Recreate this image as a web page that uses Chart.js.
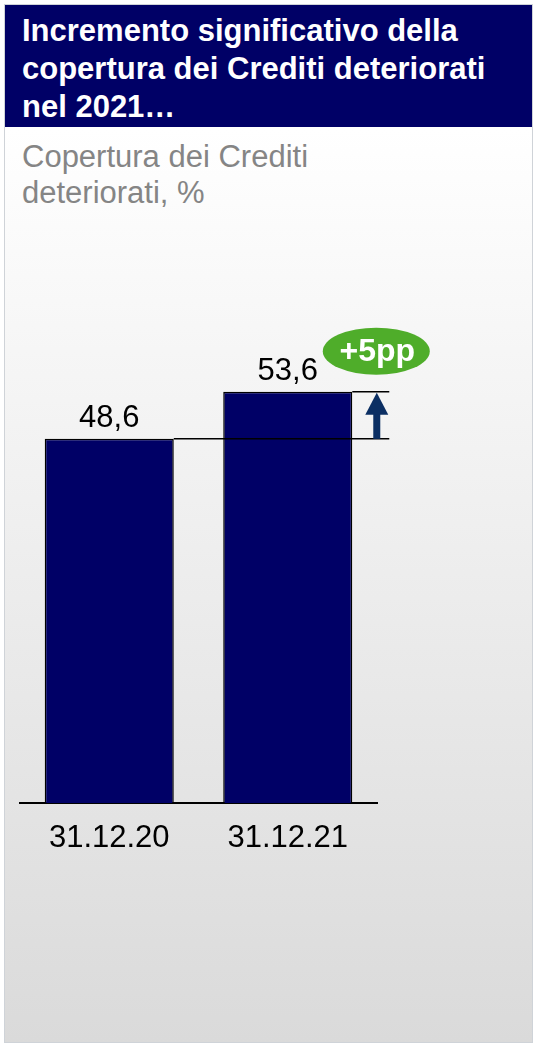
<!DOCTYPE html>
<html lang="it">
<head>
<meta charset="utf-8">
<title>Copertura dei Crediti deteriorati</title>
<script src="https://cdn.jsdelivr.net/npm/chart.js@4.4.1/dist/chart.umd.min.js"></script>
<style>
  html, body { margin: 0; padding: 0; background: #fff; }
  body { width: 539px; height: 1045px; position: relative; overflow: hidden;
         font-family: "Liberation Sans", Arial, Helvetica, sans-serif; }
  .panel { position: absolute; left: 4px; top: 4px; width: 527px; height: 1037px;
           border: 1px solid #cfd3d8;
           background: linear-gradient(to bottom, #ffffff 0px, #ffffff 123px, #dadada 1037px); }
  .header { height: 122px; background: #000066; color: #fff; font-weight: bold;
            font-size: 31px; line-height: 38px; padding: 7px 0 0 17px; box-sizing: border-box; }
  .subtitle { color: #858585; font-size: 31px; line-height: 36px; padding: 12px 0 0 17px; }
  #chart { position: absolute; left: 0; top: 0; }
</style>
</head>
<body>
<div class="panel">
  <div class="header">Incremento significativo della<br>copertura dei Crediti deteriorati<br>nel 2021…</div>
  <div class="subtitle">Copertura dei Crediti<br>deteriorati, %</div>
</div>
<canvas id="chart" width="539" height="1045"></canvas>
<script>
// dati
var categories = ['31.12.20', '31.12.21'];
var coverage = [48.6, 53.6];
var yMin = 10;
var yMax = 70;

var NAVY = '#000066';
var ARROW = '#0b2f63';
var GREEN = '#4fad2a';
var FONT = '"Liberation Sans", Arial, Helvetica, sans-serif';

function fmt(v) {
  return v.toFixed(1).replace('.', ',');
}

// etichette valori, linee di riferimento, freccia e badge della variazione
var annotations = {
  id: 'annotations',
  afterDatasetsDraw: function(chart) {
    var ctx = chart.ctx;
    var y = chart.scales.y;
    var bars = chart.getDatasetMeta(0).data;

    ctx.save();
    ctx.fillStyle = '#000';
    ctx.font = '31px ' + FONT;
    ctx.textAlign = 'center';
    ctx.textBaseline = 'alphabetic';
    bars.forEach(function(b, i) {
      ctx.fillText(fmt(coverage[i]), b.x, b.y - 12);
    });

    var first = bars[0], last = bars[bars.length - 1];
    var yLow = y.getPixelForValue(coverage[0]);
    var yHigh = y.getPixelForValue(coverage[coverage.length - 1]);
    var lastRight = last.x + last.width / 2;
    var lineEnd = lastRight + 37;
    var ax = lastRight + 24.5;

    // linee orizzontali
    ctx.strokeStyle = '#000';
    ctx.lineWidth = 1.5;
    ctx.beginPath();
    ctx.moveTo(first.x + first.width / 2, yLow);
    ctx.lineTo(lineEnd, yLow);
    ctx.moveTo(lastRight, yHigh);
    ctx.lineTo(lineEnd, yHigh);
    ctx.stroke();

    // freccia
    ctx.fillStyle = ARROW;
    ctx.fillRect(ax - 3.5, yHigh + 22, 7, yLow - yHigh - 22);
    ctx.beginPath();
    ctx.moveTo(ax, yHigh + 1);
    ctx.lineTo(ax + 11.5, yHigh + 23);
    ctx.lineTo(ax - 11.5, yHigh + 23);
    ctx.closePath();
    ctx.fill();

    // badge
    var bx = ax - 0.5, by = yHigh - 40.5;
    ctx.fillStyle = GREEN;
    ctx.beginPath();
    ctx.ellipse(bx, by, 53.5, 23.5, 0, 0, Math.PI * 2);
    ctx.fill();
    var diff = coverage[coverage.length - 1] - coverage[0];
    ctx.fillStyle = '#fff';
    ctx.font = 'bold 32px ' + FONT;
    ctx.textBaseline = 'middle';
    ctx.fillText('+' + Math.round(diff) + 'pp', bx + 1, by + 1);
    ctx.restore();
  }
};

new Chart(document.getElementById('chart').getContext('2d'), {
  type: 'bar',
  data: {
    labels: categories,
    datasets: [{
      data: coverage,
      backgroundColor: NAVY,
      borderColor: '#000',
      borderWidth: 1.5,
      barPercentage: 1,
      categoryPercentage: 0.723
    }]
  },
  options: {
    responsive: false,
    animation: false,
    events: [],
    layout: { padding: { left: 20, right: 162, top: 237, bottom: 182 } },
    plugins: { legend: { display: false }, tooltip: { enabled: false } },
    scales: {
      x: {
        grid: { display: false, drawTicks: false },
        border: { display: true, color: '#000', width: 2 },
        ticks: { color: '#000', font: { family: FONT, size: 31 }, padding: 17, maxRotation: 0 },
        afterFit: function(s) { s.height = 60; }
      },
      y: { display: false, min: yMin, max: yMax }
    }
  },
  plugins: [annotations]
});
</script>
</body>
</html>
